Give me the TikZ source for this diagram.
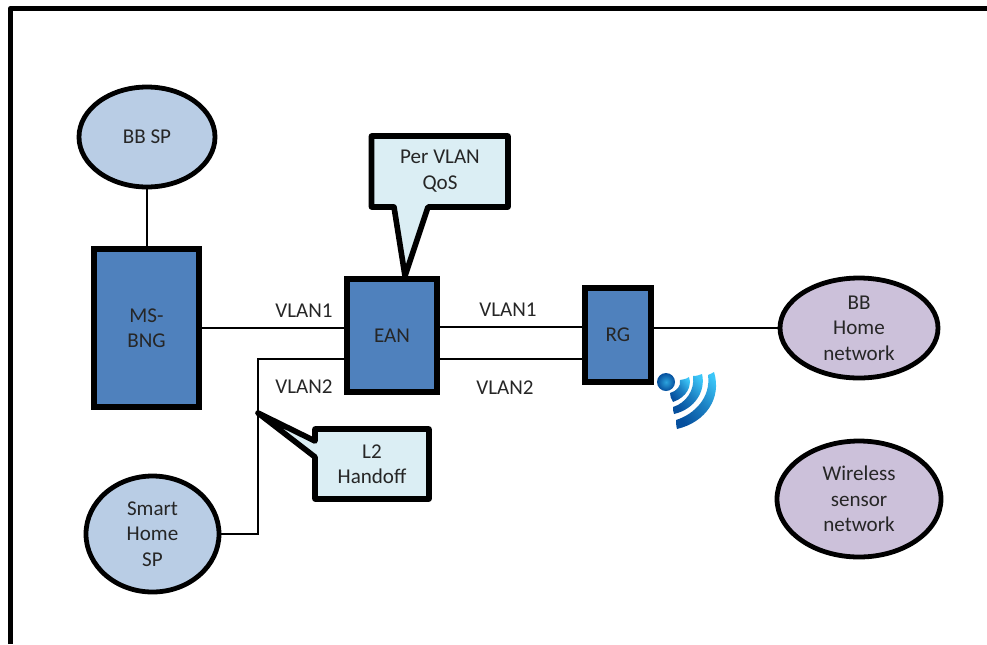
\documentclass[tikz,border=0pt]{standalone}
\usepackage{fontspec}
\setmainfont{Carlito}
\usetikzlibrary{shapes.geometric}
\definecolor{boxblue}{HTML}{4F81BD}
\definecolor{ellblue}{HTML}{B9CDE5}
\definecolor{ellpurple}{HTML}{CCC1DA}
\definecolor{callfill}{HTML}{DBEEF4}
\definecolor{wifidark}{HTML}{06509E}
\definecolor{wifilight}{HTML}{3CC6F8}
\def\px{0.75pt}
\tikzset{
  x=0.75pt,y=-0.75pt,
  lbl/.style={font=\fontsize{15.8pt}{19pt}\selectfont,text=black!85,align=center,inner sep=0pt,outer sep=0pt},
  devbox/.style={lbl,draw=black,fill=boxblue,line width=4.2pt,rectangle,outer sep=0pt},
  cloudA/.style={lbl,draw=black,fill=ellblue,line width=3.6pt,ellipse,inner sep=0pt,outer sep=0pt},
  cloudB/.style={lbl,draw=black,fill=ellpurple,line width=3.6pt,ellipse,inner sep=0pt,outer sep=0pt},
  link/.style={draw=black,line width=1.4pt},
  callout/.style={draw=black,fill=callfill,line width=4.2pt,line join=round},
  band/.style={top color=wifilight,bottom color=wifidark,middle color=wifidark!60!wifilight,shading angle=-50,draw=none},
}
\begin{document}
\begin{tikzpicture}
\useasboundingbox (0,0) rectangle (987,644);
% frame
\draw[line width=4.3pt,line join=round] (10.5,644) -- (10.5,8.5) -- (987,8.5);
% nodes
\node[cloudA,minimum width=136*\px,minimum height=100*\px] (bbsp) at (147,137) {BB SP};
\node[devbox,minimum width=105*\px,minimum height=158*\px] (bng) at (146.5,328) {MS-\\BNG};
\node[devbox,minimum width=90*\px,minimum height=113*\px] (ean) at (392,335.5) {EAN};
\node[devbox,minimum width=66*\px,minimum height=94*\px] (rg) at (618,335) {RG};
\node[cloudB,minimum width=158*\px,minimum height=100*\px] (home) at (859,328) {BB\\Home\\network};
\node[cloudB,minimum width=164*\px,minimum height=116*\px] (wsn) at (859,499) {Wireless\\sensor\\network};
\node[cloudA,minimum width=133*\px,minimum height=116*\px] (smart) at (152.5,534) {Smart\\Home\\SP};
% links
\coordinate (bend1) at (258,359);
\coordinate (bend2) at (258,534);
\draw[link] (bbsp.south) -- (bng.north -| bbsp.south);
\draw[link] (bng.east) -- (ean.west |- bng.east);
\draw[link] (ean.west |- bend1) -- (bend1) -- (bend2) -- (smart.east);
\coordinate (u1) at (ean.east |- 0,327);
\coordinate (u2) at (ean.east |- 0,359);
\draw[link] (u1) -- (rg.west |- u1);
\draw[link] (u2) -- (rg.west |- u2);
\draw[link] (rg.east |- home.west) -- (home.west);
% callouts
\coordinate (qosTip) at (405,276);
\coordinate (l2Tip) at (258,413);
\path[callout] (371.5,136) -- (508,136) -- (508,207) -- (428,207) -- (qosTip) -- (394,207) -- (371.5,207) -- cycle;
\node[lbl] (qos) at (440,171) {Per VLAN\\QoS};
\path[callout] (315,429) -- (429,429) -- (429,499) -- (315,499) -- (315,457) -- (l2Tip) -- (315,441) -- cycle;
\node[lbl] (l2) at (372,464) {L2\\Handoff};
% link labels
\node[lbl] (t1) at (304,311) {VLAN1};
\node[lbl] (t2) at (304,387) {VLAN2};
\node[lbl] (t3) at (508,310) {VLAN1};
\node[lbl] (t4) at (505,388) {VLAN2};
% wifi icon
\shade[inner color=wifilight!70!wifidark,outer color=wifidark] (666,382) circle[radius=9];
\path[band] (680,380) .. controls (686,379) and (688,378) .. (689,377)
  .. controls (692,386) and (687,397) .. (673,402)
  .. controls (671,399) and (670,396) .. (670,393)
  .. controls (677,391) and (681,386) .. (680,380) -- cycle;
\path[band] (693,376) .. controls (697,376) and (699,375) .. (702,374)
  .. controls (706,391) and (695,409) .. (674,414)
  .. controls (673,412) and (673,409) .. (673,407)
  .. controls (686,403) and (695,390) .. (693,376) -- cycle;
\path[band] (708,375) .. controls (711,374) and (712,373) .. (714,372)
  .. controls (722,398) and (706,422) .. (677,429)
  .. controls (676,425) and (676,423) .. (676,420)
  .. controls (695,414) and (711,397) .. (708,375) -- cycle;
\end{tikzpicture}
\end{document}
